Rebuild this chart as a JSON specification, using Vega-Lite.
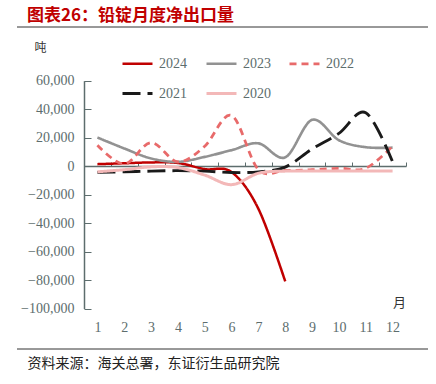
{
  "$schema": "https://vega.github.io/schema/vega-lite/v6.json",
  "width": 411,
  "height": 324,
  "autosize": {"type": "none"},
  "padding": {"left": 17, "top": 26, "right": 8, "bottom": 34},
  "title": {
    "text": "图表26：铅锭月度净出口量",
    "anchor": "start",
    "frame": "group",
    "orient": "top",
    "offset": 1,
    "dx": 10,
    "font": "Noto Sans CJK SC",
    "fontSize": 17,
    "fontWeight": "bold",
    "color": "#c00000"
  },
  "config": {
    "view": {"stroke": null},
    "legend": {
      "orient": "none",
      "direction": "horizontal",
      "legendX": 104,
      "legendY": 21,
      "columns": 3,
      "columnPadding": 13,
      "rowPadding": 6,
      "padding": 0,
      "symbolType": "stroke",
      "symbolSize": 900,
      "symbolStrokeWidth": 3,
      "labelFont": "Liberation Serif",
      "labelFontSize": 14,
      "labelColor": "#5d6d6d",
      "labelOffset": 5
    }
  },
  "resolve": {"scale": {"y": "independent", "x": "independent"}, "axis": {"x": "independent", "y": "independent"}},
  "layer": [
    {
      "data": {"values": [{"v": 0, "a": 0, "b": 1}, {"v": 1, "a": 0, "b": 1}]},
      "mark": {"type": "rule", "stroke": "#333333", "strokeWidth": 1},
      "encoding": {
        "x": {"field": "a", "type": "quantitative", "scale": {"domain": [0, 1], "nice": false, "zero": false}, "axis": null},
        "x2": {"field": "b"},
        "y": {
          "field": "v",
          "type": "quantitative",
          "scale": {"domain": [-0.1, 1.1], "range": [355.2, -31.2], "nice": false, "zero": false},
          "axis": {
            "orient": "right",
            "domain": false,
            "ticks": false,
            "labels": false,
            "grid": false,
            "title": "资料来源：海关总署，东证衍生品研究院",
            "titleAngle": 0,
            "titleX": -401,
            "titleY": 337,
            "titleAlign": "left",
            "titleBaseline": "middle",
            "titleFont": "Noto Sans CJK SC",
            "titleFontSize": 14,
            "titleFontWeight": "normal",
            "titleColor": "#222222"
          }
        }
      }
    },
    {
      "data": {
        "values": [
          {"month": 1, "year": "2024", "value": 1400},
          {"month": 2, "year": "2024", "value": 2000},
          {"month": 3, "year": "2024", "value": 2600},
          {"month": 4, "year": "2024", "value": 2200},
          {"month": 5, "year": "2024", "value": -2100},
          {"month": 6, "year": "2024", "value": -4200},
          {"month": 7, "year": "2024", "value": -30000},
          {"month": 8, "year": "2024", "value": -81000},
          {"month": 1, "year": "2023", "value": 20100},
          {"month": 2, "year": "2023", "value": 12400},
          {"month": 3, "year": "2023", "value": 5400},
          {"month": 4, "year": "2023", "value": 3000},
          {"month": 5, "year": "2023", "value": 6500},
          {"month": 6, "year": "2023", "value": 11200},
          {"month": 7, "year": "2023", "value": 16000},
          {"month": 8, "year": "2023", "value": 6200},
          {"month": 9, "year": "2023", "value": 32500},
          {"month": 10, "year": "2023", "value": 18200},
          {"month": 11, "year": "2023", "value": 13300},
          {"month": 12, "year": "2023", "value": 13000},
          {"month": 1, "year": "2022", "value": 14700},
          {"month": 2, "year": "2022", "value": 1500},
          {"month": 3, "year": "2022", "value": 16500},
          {"month": 4, "year": "2022", "value": 3000},
          {"month": 5, "year": "2022", "value": 14000},
          {"month": 6, "year": "2022", "value": 35500},
          {"month": 7, "year": "2022", "value": -2500},
          {"month": 8, "year": "2022", "value": -3000},
          {"month": 9, "year": "2022", "value": -2500},
          {"month": 10, "year": "2022", "value": -1500},
          {"month": 11, "year": "2022", "value": -1500},
          {"month": 12, "year": "2022", "value": 14000},
          {"month": 1, "year": "2021", "value": -4400},
          {"month": 2, "year": "2021", "value": -4000},
          {"month": 3, "year": "2021", "value": -3500},
          {"month": 4, "year": "2021", "value": -3200},
          {"month": 5, "year": "2021", "value": -3500},
          {"month": 6, "year": "2021", "value": -4500},
          {"month": 7, "year": "2021", "value": -4000},
          {"month": 8, "year": "2021", "value": -700},
          {"month": 9, "year": "2021", "value": 12000},
          {"month": 10, "year": "2021", "value": 23000},
          {"month": 11, "year": "2021", "value": 37500},
          {"month": 12, "year": "2021", "value": 3000},
          {"month": 1, "year": "2020", "value": -4000},
          {"month": 2, "year": "2020", "value": -2500},
          {"month": 3, "year": "2020", "value": -500},
          {"month": 4, "year": "2020", "value": -1000},
          {"month": 5, "year": "2020", "value": -6300},
          {"month": 6, "year": "2020", "value": -13000},
          {"month": 7, "year": "2020", "value": -5000},
          {"month": 8, "year": "2020", "value": -3500},
          {"month": 9, "year": "2020", "value": -3500},
          {"month": 10, "year": "2020", "value": -3500},
          {"month": 11, "year": "2020", "value": -3500},
          {"month": 12, "year": "2020", "value": -3500}
        ]
      },
      "mark": {"type": "line", "interpolate": "cardinal"},
      "encoding": {
        "x": {
          "field": "month",
          "type": "ordinal",
          "bandPosition": 0.5,
          "scale": {"type": "band", "range": [67, 389], "paddingInner": 0, "paddingOuter": 0},
          "axis": {
            "orient": "top",
            "offset": -140,
            "tickBand": "extent",
            "tickSize": 4,
            "tickColor": "#5d6d6d",
            "tickWidth": 1,
            "domainColor": "#5d6d6d",
            "domainWidth": 1.5,
            "labelPadding": -165,
            "labelBaseline": "middle",
            "labelAngle": 0,
            "labelFont": "Liberation Serif",
            "labelFontSize": 14,
            "labelColor": "#5d6d6d",
            "grid": false,
            "title": "月",
            "titleX": 382,
            "titleY": 136,
            "titleAngle": 0,
            "titleAlign": "center",
            "titleBaseline": "middle",
            "titleFont": "Noto Sans CJK SC",
            "titleFontSize": 13,
            "titleFontWeight": "normal",
            "titleColor": "#333333"
          }
        },
        "y": {
          "field": "value",
          "type": "quantitative",
          "scale": {"domain": [-100000, 60000], "range": [282.5, 54.7], "nice": false, "zero": false},
          "axis": {
            "orient": "left",
            "offset": -67,
            "values": [-100000, -80000, -60000, -40000, -20000, 0, 20000, 40000, 60000],
            "format": ",d",
            "tickSize": -7,
            "tickColor": "#5d6d6d",
            "domainColor": "#5d6d6d",
            "domainWidth": 1.5,
            "labelPadding": 17,
            "labelFont": "Liberation Serif",
            "labelFontSize": 14,
            "labelColor": "#5d6d6d",
            "grid": false,
            "title": "吨",
            "titleX": -44,
            "titleY": 21,
            "titleAngle": 0,
            "titleAlign": "center",
            "titleBaseline": "middle",
            "titleFont": "Noto Sans CJK SC",
            "titleFontSize": 12,
            "titleFontWeight": "normal",
            "titleColor": "#333333"
          }
        },
        "color": {
          "field": "year",
          "type": "nominal",
          "sort": ["2024", "2023", "2022", "2021", "2020"],
          "scale": {"domain": ["2024", "2023", "2022", "2021", "2020"], "range": ["#c00000", "#929292", "#e86a6a", "#1a1a1a", "#f3b8b8"]},
          "legend": {"title": null}
        },
        "strokeDash": {
          "field": "year",
          "type": "nominal",
          "sort": ["2024", "2023", "2022", "2021", "2020"],
          "scale": {"domain": ["2024", "2023", "2022", "2021", "2020"], "range": [[1, 0], [1, 0], [7, 5], [18, 7], [1, 0]]},
          "legend": {"title": null}
        },
        "strokeWidth": {
          "field": "year",
          "type": "nominal",
          "scale": {"domain": ["2024", "2023", "2022", "2021", "2020"], "range": [2.5, 3, 3, 2.5, 3.5]},
          "legend": null
        }
      }
    }
  ]
}
